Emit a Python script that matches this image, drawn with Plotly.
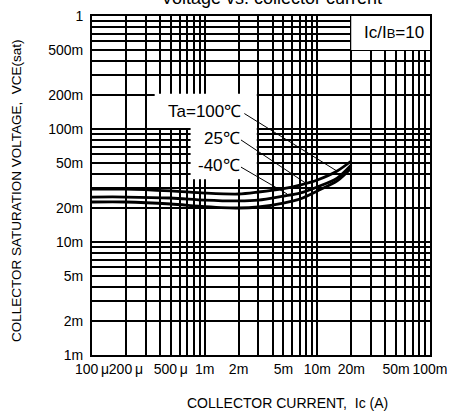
import math
import plotly.graph_objects as go

# ---- data ----
ic = [0.1e-3, 0.2e-3, 0.5e-3, 1e-3, 2e-3, 3e-3, 5e-3, 7e-3, 10e-3, 15e-3, 20e-3]
vce_100 = [29.4e-3, 29.4e-3, 28.3e-3, 27.1e-3, 26.6e-3, 27.7e-3, 29.7e-3, 31.9e-3, 35.4e-3, 42.5e-3, 52.1e-3]
vce_25 = [25.0e-3, 25.0e-3, 24.5e-3, 23.5e-3, 23.1e-3, 23.5e-3, 25.5e-3, 27.1e-3, 30.7e-3, 36.8e-3, 48.0e-3]
vce_m40 = [22.6e-3, 22.6e-3, 21.7e-3, 20.6e-3, 20.0e-3, 20.4e-3, 22.1e-3, 24.0e-3, 28.3e-3, 34.7e-3, 45.2e-3]

x_tickvals = [m * 10 ** e for e in (-4, -3, -2) for m in range(1, 10)] + [0.1]
x_ticktext_map = {1e-4: "100\u2009μ", 2e-4: "200\u2009μ", 5e-4: "500\u2009μ", 1e-3: "1m", 2e-3: "2m",
                  5e-3: "5m", 1e-2: "10m", 2e-2: "20m", 5e-2: "50m", 1e-1: "100m"}
y_tickvals = [m * 10 ** e for e in (-3, -2, -1) for m in range(1, 10)] + [1.0]
y_ticktext_map = {1e-3: "1m", 2e-3: "2m", 5e-3: "5m", 1e-2: "10m", 2e-2: "20m",
                  5e-2: "50m", 1e-1: "100m", 2e-1: "200m", 5e-1: "500m", 1.0: "1"}


def label_for(v, mp):
    for k, t in mp.items():
        if abs(v - k) / k < 1e-6:
            return t
    return ""


x_ticktext = [label_for(v, x_ticktext_map) for v in x_tickvals]
y_ticktext = [label_for(v, y_ticktext_map) for v in y_tickvals]

FONT = "Liberation Sans, Arial, sans-serif"

fig = go.Figure()
for ys in (vce_100, vce_25, vce_m40):
    fig.add_trace(go.Scatter(x=ic, y=ys, mode="lines",
                             line=dict(color="black", width=2.8, shape="spline", smoothing=0.8),
                             showlegend=False, hoverinfo="skip"))

XR = (-4, -1)
YR = (-3, 0)


def px_(v):
    return (math.log10(v) - XR[0]) / (XR[1] - XR[0])


def py_(v):
    return (math.log10(v) - YR[0]) / (YR[1] - YR[0])


shapes = []
# white label backgrounds
for (xa, xb, ya, yb) in [(20e-3, 100e-3, 0.5, 1.0),
                         (0.36e-3, 2.9e-3, 0.102, 0.205),
                         (0.75e-3, 2.9e-3, 0.036, 0.102)]:
    shapes.append(dict(type="rect", xref="paper", yref="paper",
                       x0=px_(xa), x1=px_(xb), y0=py_(ya), y1=py_(yb),
                       fillcolor="white", line=dict(width=0), layer="above"))
# leader lines
for (xa, ya, xb, yb) in [(2.25e-3, 0.137, 14.9e-3, 42.5e-3),
                         (2.1e-3, 80e-3, 8.1e-3, 32.6e-3),
                         (2.1e-3, 46e-3, 5.4e-3, 26.6e-3)]:
    shapes.append(dict(type="line", xref="paper", yref="paper",
                       x0=px_(xa), x1=px_(xb), y0=py_(ya), y1=py_(yb),
                       line=dict(color="black", width=1), layer="above"))

LBL = dict(size=17, family=FONT, color="black")
annotations = [
    dict(text="Ta=100℃", x=px_(2.2e-3), y=py_(0.142), xref="paper", yref="paper",
         xanchor="right", yanchor="middle", showarrow=False, font=LBL),
    dict(text="25℃", x=px_(2.15e-3), y=py_(82e-3), xref="paper", yref="paper",
         xanchor="right", yanchor="middle", showarrow=False, font=LBL),
    dict(text="-40℃", x=px_(2.15e-3), y=py_(47.5e-3), xref="paper", yref="paper",
         xanchor="right", yanchor="middle", showarrow=False, font=LBL),
    dict(text="Ic/I<span style='font-size:13px'>B</span>=10", x=(426 - 92) / 338, y=(355 - 32) / 339,
         xref="paper", yref="paper", xanchor="right", yanchor="middle", showarrow=False, font=LBL),
    dict(text="Voltage vs. collector current", x=(271 - 92) / 338, y=(355 + 2) / 339,
         xref="paper", yref="paper", xanchor="center", yanchor="middle", showarrow=False,
         font=dict(size=18, family=FONT, color="black")),
    dict(text="COLLECTOR CURRENT,  Ic (A)", x=(287 - 92) / 338, y=(355 - 403) / 339,
         xref="paper", yref="paper", xanchor="center", yanchor="middle", showarrow=False,
         font=dict(size=14, family=FONT, color="black")),
    dict(text="COLLECTOR SATURATION VOLTAGE,  VCE(sat)", x=(16 - 92) / 338, y=(355 - 191) / 339,
         xref="paper", yref="paper", xanchor="center", yanchor="middle", showarrow=False, textangle=-90,
         font=dict(size=13.5, family=FONT, color="black")),
]

axis_common = dict(type="log", showgrid=True, gridcolor="black", gridwidth=2,
                   showline=True, linecolor="black", linewidth=2, mirror=True,
                   ticks="", zeroline=False, tickmode="array", automargin=False,
                   tickangle=0, tickfont=dict(size=14, family=FONT, color="black"))

fig.update_xaxes(range=list(XR), tickvals=x_tickvals, ticktext=x_ticktext, ticklabelstandoff=0, **axis_common)
fig.update_yaxes(range=list(YR), tickvals=y_tickvals, ticktext=y_ticktext, ticklabelstandoff=4, **axis_common)

fig.update_layout(width=450, height=412, margin=dict(l=92, r=20, t=16, b=57),
                  paper_bgcolor="white", plot_bgcolor="white",
                  shapes=shapes, annotations=annotations, showlegend=False,
                  font=dict(family=FONT, color="black"))

fig.write_html("out.html", config={"displayModeBar": False},
               post_script="document.body.style.margin='0';document.body.style.overflow='hidden';")
